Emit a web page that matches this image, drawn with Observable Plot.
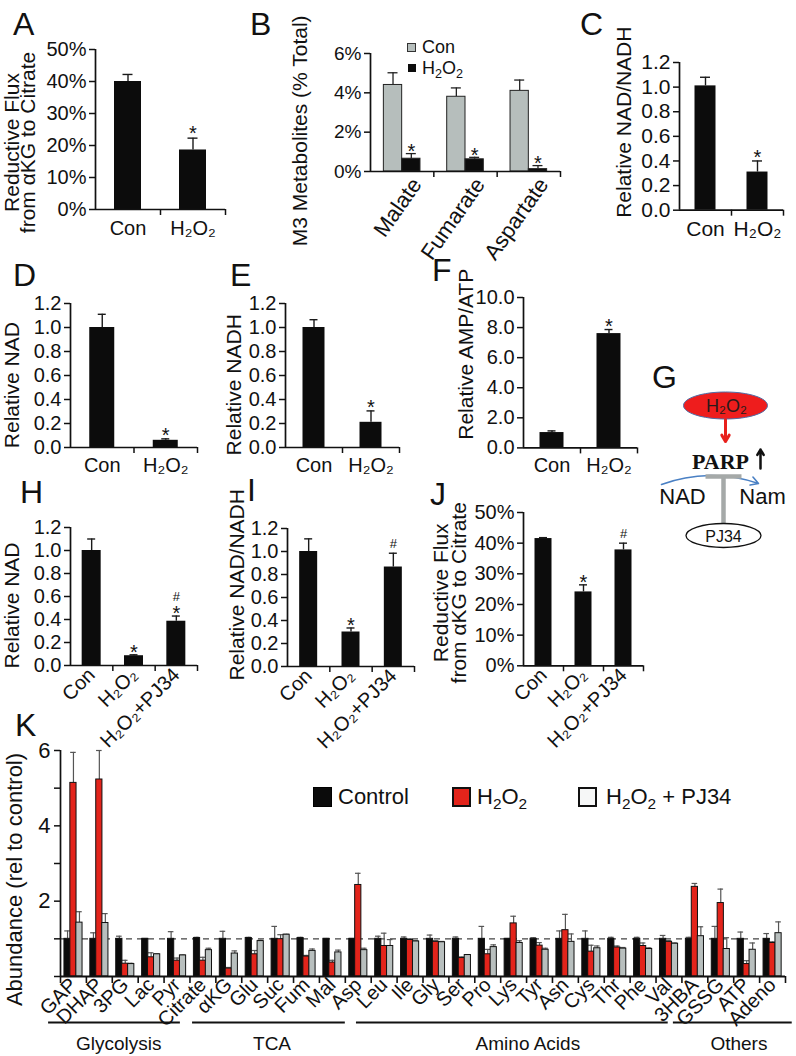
<!DOCTYPE html>
<html><head><meta charset="utf-8">
<script src="https://cdn.jsdelivr.net/npm/d3@7"></script>
<script src="https://cdn.jsdelivr.net/npm/@observablehq/plot@0.6"></script>
<style>
body{margin:0;background:#fff;}
#fig{position:relative;width:796px;height:1056px;overflow:hidden;background:#fff;font-family:"Liberation Sans",Arial,Helvetica,sans-serif;color:#111;}
.letter{position:absolute;font-size:32px;line-height:1;}
.lg{position:absolute;line-height:1;white-space:nowrap;}
.lg sub{font-size:0.7em;vertical-align:-0.3em;line-height:0;}
.sq{position:absolute;box-sizing:border-box;}
svg{overflow:visible}
</style></head><body><div id="fig"></div><script>
// ---------- DATA ----------
// A
const catsConH = ["Con", "H₂O₂"];
const aFlux = [0.400, 0.186];
const aFluxErr = [0.022, 0.037];
const aStar = [false, true];
// B
const bMetabolites = ["Malate", "Fumarate", "Aspartate"];
const bSeries = ["Con", "H₂O₂"];
const bCon = [4.40, 3.80, 4.10];
const bConErr = [0.62, 0.45, 0.55];
const bH2O2 = [0.65, 0.62, 0.12];
const bH2O2Err = [0.26, 0.10, 0.18];
const bStar = [true, true, true];
// C
const cRatio = [1.01, 0.31];
const cRatioErr = [0.07, 0.09];
const cStar = [false, true];
// D
const dNAD = [1.00, 0.06];
const dNADErr = [0.11, 0.012];
const dStar = [false, true];
// E
const eNADH = [1.00, 0.21];
const eNADHErr = [0.065, 0.095];
const eStar = [false, true];
// F
const fAmpAtp = [1.02, 7.60];
const fAmpAtpErr = [0.11, 0.27];
const fStar = [false, true];
// G
const gNodes = ["H₂O₂", "PARP", "NAD", "Nam", "PJ34"];
// H, I, J
const catsPJ = ["Con", "H₂O₂", "H₂O₂+PJ34"];
const hNAD = [1.00, 0.085, 0.385];
const hNADErr = [0.10, 0.008, 0.045];
const hStar = [false, true, true];
const hHash = [false, false, true];
const iRatio = [1.00, 0.30, 0.865];
const iRatioErr = [0.11, 0.035, 0.12];
const iStar = [false, true, false];
const iHash = [false, false, true];
const jFlux = [0.415, 0.241, 0.378];
const jFluxErr = [0.003, 0.023, 0.022];
const jStar = [false, true, false];
const jHash = [false, false, true];
// K
const kMetabolites = ["GAP","DHAP","3PG","Lac","Pyr","Citrate","αKG","Glu","Suc","Fum","Mal","Asp","Leu","Ile","Gly","Ser","Pro","Lys","Tyr","Asn","Cys","Thr","Phe","Val","3HBA","GSSG","ATP","Adeno"];
const kSeries = ["Control", "H₂O₂", "H₂O₂ + PJ34"];
const kControl    = [1.00,1.00,1.00,1.00,1.00,1.02,1.00,1.02,1.00,1.02,1.00,1.00,1.00,1.00,1.00,1.00,1.00,1.00,1.00,1.00,1.00,1.00,1.00,1.00,1.00,1.00,1.00,1.00];
const kControlErr = [0.21,0.16,0.07,0.01,0.19,0.02,0.20,0.02,0.33,0.02,0.01,0.01,0.07,0.05,0.10,0.05,0.33,0.01,0.03,0.21,0.21,0.04,0.04,0.09,0.04,0.33,0.18,0.14];
const kH2O2       = [5.14,5.23,0.34,0.51,0.42,0.42,0.21,0.59,0.99,0.53,0.37,2.43,0.81,0.97,0.92,0.49,0.59,1.41,0.82,1.23,0.66,0.77,0.81,0.92,2.38,1.95,0.33,0.89];
const kH2O2Err    = [0.81,0.77,0.09,0.12,0.07,0.09,0.03,0.10,0.12,0.03,0.06,0.31,0.34,0.03,0.03,0.03,0.13,0.19,0.08,0.42,0.17,0.04,0.08,0.03,0.09,0.37,0.09,0.03];
const kPJ34       = [1.43,1.42,0.33,0.59,0.56,0.70,0.61,0.94,1.11,0.68,0.64,0.70,0.81,0.93,0.91,0.57,0.78,0.89,0.71,0.92,0.75,0.74,0.73,0.87,1.07,0.73,0.71,1.15];
const kPJ34Err    = [0.29,0.25,0.02,0.01,0.01,0.05,0.07,0.02,0.01,0.05,0.06,0.05,0.17,0.02,0.02,0.01,0.06,0.06,0.04,0.21,0.06,0.03,0.03,0.02,0.25,0.30,0.18,0.30];
const kGroups = ["Glycolysis", "TCA", "Amino Acids", "Others"];
const kGroupSizes = [5, 6, 13, 4];

// ---------- LAYOUT HELPERS ----------
const FONT = '"Liberation Sans", Arial, Helvetica, sans-serif';
const fig = document.getElementById("fig");
function mount(node, left, top) {
  node.style.position = "absolute";
  node.style.left = left + "px";
  node.style.top = top + "px";
  fig.appendChild(node);
}
function letter(t, left, top) {
  const d = document.createElement("div"); d.className = "letter"; d.textContent = t; mount(d, left, top);
}
function html(h, cls, left, top, css) {
  const d = document.createElement("div"); d.className = cls; d.innerHTML = h;
  if (css) d.style.cssText = css; mount(d, left, top); return d;
}
function sty(fs) {
  return {fontFamily: FONT, fontSize: fs + "px", background: "transparent", overflow: "visible", color: "#111", maxWidth: "none"};
}

function sigMarks(rows, starDy, hashDy) {
  return [
    Plot.text(rows.filter(d => d.star), {x: "x", y: "e", text: () => "*", fontSize: 20, dy: starDy}),
    Plot.text(rows.filter(d => d.hash && !d.star), {x: "x", y: "e", text: () => "#", fontSize: 13, dy: hashDy}),
    Plot.text(rows.filter(d => d.hash && d.star), {x: "x", y: "e", text: () => "#", fontSize: 13, dy: hashDy - 11})
  ];
}

function barPanel(o) {
  const n = o.cats.length;
  const mL = o.mL, mT = 16, mR = 14, mB = o.mB ?? 44;
  const innerW = o.x1 - o.x0, innerH = o.yB - o.yT;
  const step = innerW / n;
  const half = o.barPx / 2 / step, cap = (o.capPx ?? 4) / step;
  const tf = o.tickFont ?? 20, cf = o.catFont ?? 20;
  const rows = o.cats.map((c, i) => ({x: i, v: o.values[i], e: o.values[i] + o.errs[i],
    star: o.stars ? o.stars[i] : false, hash: o.hashes ? o.hashes[i] : false}));
  const plot = Plot.plot({
    width: mL + innerW + mR, height: mT + innerH + mB,
    marginLeft: mL, marginRight: mR, marginTop: mT, marginBottom: mB,
    style: sty(tf),
    x: {type: "linear", domain: [-0.5, n - 0.5]},
    y: {domain: o.yDomain},
    marks: [
      Plot.ruleX(rows, {x: "x", y1: "v", y2: "e", stroke: "#1a1a1a", strokeWidth: 1.4}),
      Plot.ruleY(rows, {y: "e", x1: d => d.x - cap, x2: d => d.x + cap, stroke: "#1a1a1a", strokeWidth: 1.4}),
      Plot.rectY(rows, {x1: d => d.x - half, x2: d => d.x + half, y1: 0, y2: "v", fill: "#0c0c0c"}),
      ...sigMarks(rows, o.starDy ?? -3, o.hashDy ?? -9),
      Plot.axisY({ticks: o.yTicks, tickFormat: o.yFormat, tickSize: 6, tickPadding: 3, fontSize: tf, label: null, strokeWidth: 1.5}),
      Plot.ruleX([-0.5], {y1: o.yDomain[0], y2: o.yDomain[1], strokeWidth: 1.7}),
      Plot.ruleY([0], {strokeWidth: 1.7}),
      Plot.axisX({ticks: d3.range(n).map(i => i + 0.5), tickFormat: () => "", tickSize: 6, label: null, strokeWidth: 1.5}),
      Plot.axisX({ticks: d3.range(n), tickFormat: i => o.cats[i], tickSize: 0, tickPadding: o.catPad ?? 11,
        tickRotate: o.rotate ?? 0, fontSize: cf, label: null}),
      Plot.text([o.ylabel], {frameAnchor: "left", textAnchor: "middle", lineAnchor: "middle", rotate: -90,
        dx: o.labelX - o.x0, dy: o.labelY - (o.yT + o.yB) / 2, fontSize: o.labelFont ?? 21, lineHeight: o.lineHeight ?? 1})
    ]
  });
  mount(plot, o.x0 - mL, o.yT - mT);
}

const pct = d => Math.round(d * 100) + "%";
const f1 = d3.format(".1f");
const ticks12 = [0, 0.2, 0.4, 0.6, 0.8, 1.0, 1.2];

// ---------- PANELS ----------
// A
barPanel({cats: catsConH, values: aFlux, errs: aFluxErr, stars: aStar,
  x0: 95, x1: 225, yT: 49, yB: 209, mL: 95, yDomain: [0, 0.5], yTicks: [0, .1, .2, .3, .4, .5], yFormat: pct,
  barPx: 27, capPx: 5, starDy: -5, ylabel: "Reductive Flux\nfrom αKG to Citrate", labelX: 21, labelY: 142, lineHeight: 0.78,
  tickFont: 20, catFont: 20});

// B (grouped)
{
  const n = bMetabolites.length, x0 = 370, x1 = 560, yT = 52.7, yB = 170.7, mL = 90, mT = 16, mR = 14, mB = 110;
  const step = (x1 - x0) / n, bw = 18.3 / step, cap = 5 / step;
  const series = [bCon, bH2O2], errs = [bConErr, bH2O2Err];
  const rows = [];
  bMetabolites.forEach((m, i) => series.forEach((s, j) => rows.push({
    x: i + (j - 0.5) * bw, s: bSeries[j], v: s[i], e: s[i] + errs[j][i], star: j === 1 && bStar[i], hash: false})));
  const plot = Plot.plot({
    width: mL + (x1 - x0) + mR, height: mT + (yB - yT) + mB,
    marginLeft: mL, marginRight: mR, marginTop: mT, marginBottom: mB,
    style: sty(19),
    x: {type: "linear", domain: [-0.5, n - 0.5]},
    y: {domain: [0, 6]},
    color: {domain: bSeries, range: ["#b6bebc", "#0c0c0c"]},
    marks: [
      Plot.ruleX(rows, {x: "x", y1: "v", y2: "e", stroke: "#222", strokeWidth: 1.3}),
      Plot.ruleY(rows, {y: "e", x1: d => d.x - cap, x2: d => d.x + cap, stroke: "#222", strokeWidth: 1.3}),
      Plot.rectY(rows, {x1: d => d.x - bw / 2, x2: d => d.x + bw / 2, y1: 0, y2: "v", fill: "s", stroke: "#222", strokeWidth: 1}),
      ...sigMarks(rows, -2, -9),
      Plot.axisY({ticks: [0, 2, 4, 6], tickFormat: d => d + "%", tickSize: 6, tickPadding: 3, fontSize: 19, label: null, strokeWidth: 1.5}),
      Plot.ruleX([-0.5], {y1: 0, y2: 6, strokeWidth: 1.7}),
      Plot.ruleY([0], {strokeWidth: 1.7}),
      Plot.axisX({ticks: d3.range(n).map(i => i + 0.5), tickFormat: () => "", tickSize: 6, label: null, strokeWidth: 1.5}),
      Plot.text(d3.range(n), {x: d => d + 0.12, y: () => 0, text: d => bMetabolites[d], rotate: -55, textAnchor: "end",
        lineAnchor: "top", dy: 4, fontSize: 22}),
      Plot.text(["M3 Metabolites (% Total)"], {frameAnchor: "left", textAnchor: "middle", lineAnchor: "middle", rotate: -90,
        dx: 300 - x0, dy: 130 - (yT + yB) / 2, fontSize: 21})
    ]
  });
  mount(plot, x0 - mL, yT - mT);
  html("", "sq", 407, 43, "width:9px;height:9px;background:#b6bebc;border:1px solid #333;");
  html("", "sq", 408, 64, "width:8px;height:8px;background:#0c0c0c;");
  html("Con", "lg", 422, 38, "font-size:18px;");
  html("H<sub>2</sub>O<sub>2</sub>", "lg", 422, 59, "font-size:18px;");
}

// C
barPanel({cats: catsConH, values: cRatio, errs: cRatioErr, stars: cStar,
  x0: 679, x1: 783, yT: 62.3, yB: 210, mL: 80, yDomain: [0, 1.2], yTicks: ticks12, yFormat: f1,
  barPx: 21, capPx: 5, tickFont: 21, catFont: 21, ylabel: "Relative NAD/NADH", labelX: 624, labelY: 122});
// D
barPanel({cats: catsConH, values: dNAD, errs: dNADErr, stars: dStar,
  x0: 70, x1: 197, yT: 303.3, yB: 447.3, mL: 70, yDomain: [0, 1.2], yTicks: ticks12, yFormat: f1,
  barPx: 25, capPx: 4, ylabel: "Relative NAD", labelX: 12, labelY: 385, catPad: 10});
// E
barPanel({cats: catsConH, values: eNADH, errs: eNADHErr, stars: eStar,
  x0: 285, x1: 399, yT: 302.7, yB: 446.7, mL: 75, yDomain: [0, 1.2], yTicks: ticks12, yFormat: f1,
  barPx: 22, capPx: 4, ylabel: "Relative NADH", labelX: 234, labelY: 384, catPad: 10});
// F
barPanel({cats: catsConH, values: fAmpAtp, errs: fAmpAtpErr, stars: fStar,
  x0: 523, x1: 637, yT: 297.3, yB: 447.7, mL: 80, yDomain: [0, 10], yTicks: [0, 2, 4, 6, 8, 10], yFormat: f1,
  barPx: 24, capPx: 4, ylabel: "Relative AMP/ATP", labelX: 466, labelY: 354, catPad: 10});
// H
barPanel({cats: catsPJ, values: hNAD, errs: hNADErr, stars: hStar, hashes: hHash,
  x0: 70, x1: 197, yT: 527, yB: 665, mL: 70, mB: 110, yDomain: [0, 1.2], yTicks: ticks12, yFormat: f1,
  barPx: 19, capPx: 4, rotate: -45, catPad: 6, starDy: -2, hashDy: -8, ylabel: "Relative NAD", labelX: 12, labelY: 605});
// I
barPanel({cats: catsPJ, values: iRatio, errs: iRatioErr, stars: iStar, hashes: iHash,
  x0: 287, x1: 414, yT: 527.7, yB: 665.7, mL: 75, mB: 110, yDomain: [0, 1.2], yTicks: ticks12, yFormat: f1,
  barPx: 18, capPx: 4, rotate: -45, catPad: 6, starDy: -2, hashDy: -9, ylabel: "Relative NAD/NADH", labelX: 237, labelY: 584});
// J
barPanel({cats: catsPJ, values: jFlux, errs: jFluxErr, stars: jStar, hashes: jHash,
  x0: 523, x1: 643, yT: 511.7, yB: 665, mL: 100, mB: 110, yDomain: [0, 0.5], yTicks: [0, .1, .2, .3, .4, .5], yFormat: pct,
  barPx: 17, capPx: 4, rotate: -45, catPad: 6, starDy: -2, hashDy: -9,
  ylabel: "Reductive Flux\nfrom αKG to Citrate", labelX: 451, labelY: 592, lineHeight: 0.85});

// G diagram
{
  const L = 640, T = 385, W = 156, H = 165;
  const ellipse = (rx, ry) => ({draw(ctx) {
    const k = 0.5523;
    ctx.moveTo(rx, 0);
    ctx.bezierCurveTo(rx, ry * k, rx * k, ry, 0, ry);
    ctx.bezierCurveTo(-rx * k, ry, -rx, ry * k, -rx, 0);
    ctx.bezierCurveTo(-rx, -ry * k, -rx * k, -ry, 0, -ry);
    ctx.bezierCurveTo(rx * k, -ry, rx, -ry * k, rx, 0);
    ctx.closePath();
  }});
  const P = (px, py) => ({x: px - L, y: py - T});
  const seg = (ax, ay, bx, by) => ({x: ax - L, y: ay - T, x2: bx - L, y2: by - T});
  const plot = Plot.plot({
    width: W, height: H, margin: 0,
    style: sty(16),
    x: {domain: [0, W], range: [0, W], axis: null}, y: {domain: [0, H], range: [0, H], axis: null},
    marks: [
      Plot.dot([P(725, 405)], {x: "x", y: "y", symbol: ellipse(42, 13.5), r: 10, fill: "#ee1d1d", stroke: "#4f6fa8", strokeWidth: 1}),
      Plot.text([P(726, 406)], {x: "x", y: "y", text: () => gNodes[0], fontSize: 18, fill: "#2a1a1a"}),
      Plot.arrow([seg(725, 419, 725, 441)], {x1: "x", y1: "y", x2: "x2", y2: "y2", stroke: "#e8201c", strokeWidth: 3, headLength: 10}),
      Plot.text([P(720, 461)], {x: "x", y: "y", text: () => gNodes[1], fontSize: 22, fontWeight: "bold", fontFamily: '"Liberation Serif", "DejaVu Serif", serif'}),
      Plot.arrow([seg(760, 468, 760, 449)], {x1: "x", y1: "y", x2: "x2", y2: "y2", stroke: "#111", strokeWidth: 2.5, headLength: 7}),
      Plot.arrow([seg(661, 484, 758, 483)], {x1: "x", y1: "y", x2: "x2", y2: "y2", bend: 20, stroke: "#4a80c4", strokeWidth: 1.6, headLength: 8}),
      Plot.link([seg(723, 476, 723, 523)], {x1: "x", y1: "y", x2: "x2", y2: "y2", stroke: "#a5a9a8", strokeWidth: 4.5}),
      Plot.link([seg(705, 476, 741, 476)], {x1: "x", y1: "y", x2: "x2", y2: "y2", stroke: "#a5a9a8", strokeWidth: 4.5}),
      Plot.text([P(682, 496)], {x: "x", y: "y", text: () => gNodes[2], fontSize: 22}),
      Plot.text([P(762, 496)], {x: "x", y: "y", text: () => gNodes[3], fontSize: 22}),
      Plot.dot([P(723, 535)], {x: "x", y: "y", symbol: ellipse(37.5, 12), r: 10, fill: "white", stroke: "#111", strokeWidth: 1.3}),
      Plot.text([P(723, 536)], {x: "x", y: "y", text: () => gNodes[4], fontSize: 16})
    ]
  });
  mount(plot, L, T);
}

// K
{
  const n = kMetabolites.length, x0 = 60, x1 = 785, yT = 750, yB = 976, mL = 60, mT = 12, mR = 11, mB = 80;
  const step = (x1 - x0) / n, bw = 6.2 / step, cap = 2.8 / step;
  const offsets = [-5.9, 0, 6.0].map(p => p / step);
  const vals = [kControl, kH2O2, kPJ34], errs = [kControlErr, kH2O2Err, kPJ34Err];
  const rows = [];
  kMetabolites.forEach((m, i) => kSeries.forEach((s, j) => rows.push({
    x: i + offsets[j], s, v: vals[j][i], e: vals[j][i] + errs[j][i]})));
  const starts = d3.cumsum([0, ...kGroupSizes.slice(0, -1)]);
  const spanPad = [[-0.46, -0.37], [0.1, 0], [0.43, -0.53], [-0.33, 0.26]];
  const labelShift = [-0.25, 0.17, 0.55, 0.2];
  const groups = kGroups.map((g, k) => {
    const a = starts[k] - 0.5 + spanPad[k][0], b = starts[k] + kGroupSizes[k] - 0.5 + spanPad[k][1];
    return {g, a, b, mid: (starts[k] + starts[k] + kGroupSizes[k] - 1) / 2 + labelShift[k]};
  });
  const plot = Plot.plot({
    width: mL + (x1 - x0) + mR, height: mT + (yB - yT) + mB,
    marginLeft: mL, marginRight: mR, marginTop: mT, marginBottom: mB,
    style: sty(20),
    x: {type: "linear", domain: [-0.5, n - 0.5]},
    y: {domain: [0, 6]},
    color: {domain: kSeries, range: ["#0b0b0b", "#e3241b", "#b8bfbe"]},
    marks: [
      Plot.ruleY([1], {stroke: "#444", strokeWidth: 1.2, strokeDasharray: "6,5"}),
      Plot.ruleX(rows, {x: "x", y1: "v", y2: "e", stroke: "#555", strokeWidth: 1.2}),
      Plot.ruleY(rows, {y: "e", x1: d => d.x - cap, x2: d => d.x + cap, stroke: "#555", strokeWidth: 1.2}),
      Plot.rectY(rows, {x1: d => d.x - bw / 2, x2: d => d.x + bw / 2, y1: 0, y2: "v", fill: "s", stroke: "#111", strokeWidth: 1}),
      Plot.axisY({ticks: [0, 1, 2, 3, 4, 5, 6], tickFormat: d => (d > 0 && d % 2 === 0) ? d : "", tickSize: 6, tickPadding: 4, fontSize: 22, label: null, strokeWidth: 1.5}),
      Plot.ruleX([-0.5], {y1: 0, y2: 6, strokeWidth: 1.7}),
      Plot.ruleY([0], {strokeWidth: 2}),
      Plot.axisX({ticks: d3.range(n + 1).map(i => i - 0.5), tickFormat: () => "", tickSize: 7, label: null, strokeWidth: 1.6}),
      Plot.axisX({ticks: d3.range(n), tickFormat: i => kMetabolites[i], tickSize: 0, tickPadding: 5, tickRotate: -45, fontSize: 20, label: null}),
      Plot.ruleY(groups, {y: () => 0, x1: "a", x2: "b", dy: 46, strokeWidth: 2}),
      Plot.text(groups, {x: "mid", y: () => 0, text: "g", dy: 67, fontSize: 19}),
      Plot.text(["Abundance (rel to control)"], {frameAnchor: "left", textAnchor: "middle", lineAnchor: "middle", rotate: -90,
        dx: 14 - x0, dy: 879 - (yT + yB) / 2, fontSize: 22})
    ]
  });
  mount(plot, x0 - mL, yT - mT);
  html("", "sq", 313, 787, "width:19px;height:20px;background:#0b0b0b;border:1.5px solid #000;");
  html("", "sq", 452, 787, "width:19px;height:20px;background:#e3241b;border:2px solid #111;");
  html("", "sq", 578, 787, "width:19px;height:20px;background:#f6f7f7;border:2px solid #111;");
  html("Control", "lg", 338, 786, "font-size:22px;");
  html("H<sub>2</sub>O<sub>2</sub>", "lg", 477, 786, "font-size:22px;");
  html("H<sub>2</sub>O<sub>2</sub> + PJ34", "lg", 606, 786, "font-size:22px;");
}

// panel letters
letter("A", 13, 8); letter("B", 250, 8); letter("C", 580, 8);
letter("D", 13, 259); letter("E", 230, 259); letter("F", 432, 254);
letter("G", 652, 361);
letter("H", 20, 476); letter("I", 247, 474); letter("J", 430, 478);
letter("K", 15, 709);
</script></body></html>
